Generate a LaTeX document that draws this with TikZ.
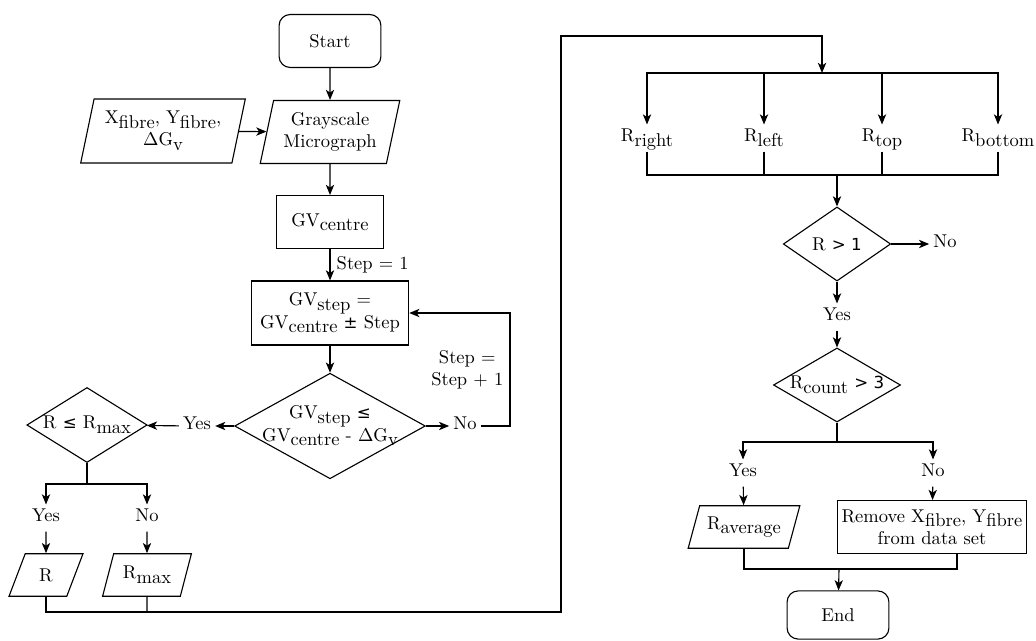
\documentclass[tikz,border=0pt]{standalone}
\usepackage{fontspec}
\usepackage{amsmath}
\usetikzlibrary{shapes.geometric,arrows.meta}
\newfontfamily\symf[Scale=0.9]{DejaVu Sans}
\newcommand{\lo}[1]{\raisebox{-0.6ex}{#1}}

\begin{document}
\begin{tikzpicture}[x=0.54pt, y=-0.54pt, line width=0.6pt,
	term/.style = {draw, rounded corners=6pt, minimum width=55pt, minimum height=28.6pt},
	proc/.style = {draw, align=center, inner sep=1pt},
	io/.style = {draw, trapezium, trapezium left angle=75, trapezium right angle=105, trapezium stretches=true, align=center, inner sep=1pt},
	small/.style = {trapezium left angle=68, trapezium right angle=112},
	dec/.style = {draw, diamond, inner sep=0pt},
	lbl/.style = {inner sep=2pt, text height=7pt, text depth=3pt}]
	\tikzset{edge/.style = {->,> = {Stealth[length=5.5pt, width=4.5pt, inset=1.5pt]}}}
	
		\useasboundingbox (0,0) rectangle (1036,641);
		
		% left column
		\node[term] (1) at (330,41) {Start};
		\node[io, minimum width=75.6pt, minimum height=34pt] (2) at (330,132) {Grayscale\\Micrograph};
		\node[io, minimum width=89pt, minimum height=34.6pt] (3) at (163,131) {X\lo{fibre}, Y\lo{fibre},\\$\Delta$G\lo{v}};
		\node[proc, minimum width=58pt, minimum height=28.6pt] (4) at (330,222) {GV\lo{centre}};
		\node[proc, minimum width=85pt, minimum height=34.6pt] (5) at (330,313) {GV\lo{step} $=$\\GV\lo{centre} {\symf ±} Step};
		\node[dec, minimum width=103pt, minimum height=57pt, label={[align=center]center:{GV\lo{step} {\symf ≤}\\GV\lo{centre} - $\Delta$G\lo{v}}}] (6) at (330,426) {};
		\node[lbl] (7) at (465,426) {No};
		\node[lbl] (8) at (197,426) {Yes};
		\node[dec, minimum width=65pt, minimum height=40.5pt, label=center:{R {\symf ≤} R\lo{max}}] (9) at (87,425) {};
		\node[lbl] (10) at (46,518) {Yes};
		\node[lbl] (11) at (147,518) {No};
		\node[io, small, minimum width=40pt, minimum height=23pt] (12) at (46,575) {R};
		\node[io, small, minimum width=48pt, minimum height=23pt] (13) at (147,575) {R\lo{max}};
		
		% right column
		\node[lbl] (14) at (647,138) {R\lo{right}};
		\node[lbl] (15) at (764,138) {R\lo{left}};
		\node[lbl] (16) at (882,138) {R\lo{top}};
		\node[lbl] (17) at (998,138) {R\lo{bottom}};
		\node[dec, minimum width=58pt, minimum height=40pt, label=center:{R {\symf > 1}}] (18) at (837,244) {};
		\node[lbl] (19) at (945,244) {No};
		\node[lbl] (20) at (837,317) {Yes};
		\node[dec, minimum width=68.6pt, minimum height=40pt, label=center:{R\lo{count} {\symf > 3}}] (21) at (837,385) {};
		\node[lbl] (22) at (743,473) {Yes};
		\node[lbl] (23) at (933,473) {No};
		\node[io, small, minimum width=60.5pt, minimum height=23pt] (24) at (744,527) {R\lo{average}};
		\node[proc, minimum width=102pt, minimum height=28.6pt] (25) at (932,527) {Remove X\lo{fibre}, Y\lo{fibre}\\from data set};
		\node[term, minimum height=26pt] (26) at (838,615) {End};
		
		\coordinate (j1) at (87,484);
		\coordinate (low) at (561,612);
		\coordinate (high) at (561,36);
		\coordinate (bus1) at (822,73);
		\coordinate (bus2) at (837,175);
		\coordinate (j2) at (837,442);
		\coordinate (j3) at (839,569);
		\coordinate (loop) at (510,313);
		
		\draw[edge] (1) -- (2);
		\draw[edge] (3) -- (2);
		\draw[edge] (2) -- (4);
		\draw[edge] (4) -- node[right] {Step $=$ 1} (5);
		\draw[edge] (5) -- (6);
		\draw[edge] (6) -- (7);
		\draw[edge] (7) -| node[pos=0.75, left, align=center] {Step $=$\\Step $+$ 1} (loop) -- (5);
		\draw[edge] (6) -- (8);
		\draw[edge] (8) -- (9);
		\draw (9) -- (j1);
		\draw[edge] (j1) -| (10);
		\draw[edge] (j1) -| (11);
		\draw[edge] (10) -- (12);
		\draw[edge] (11) -- (13);
		\draw[edge] (12) |- (low) -- (high) -| (bus1);
		\draw (13) -- (13 |- low);
		
		\draw[edge] (bus1) -| (14);
		\draw[edge] (bus1) -| (15);
		\draw[edge] (bus1) -| (16);
		\draw[edge] (bus1) -| (17);
		\draw (14) |- (bus2);
		\draw (15) |- (bus2);
		\draw (16) |- (bus2);
		\draw (17) |- (bus2);
		\draw[edge] (bus2) -- (18);
		\draw[edge] (18) -- (19);
		\draw[edge] (18) -- (20);
		\draw[edge] (20) -- (21);
		\draw (21) -- (j2);
		\draw[edge] (j2) -| (22);
		\draw[edge] (j2) -| (23);
		\draw[edge] (22) -- (24);
		\draw[edge] (23) -- (25);
		\draw (24) |- (j3);
		\draw ([xshift=13.5pt]25.south) |- (j3);
		\draw[edge] (j3) -- (26);
	\end{tikzpicture}
\end{document}
